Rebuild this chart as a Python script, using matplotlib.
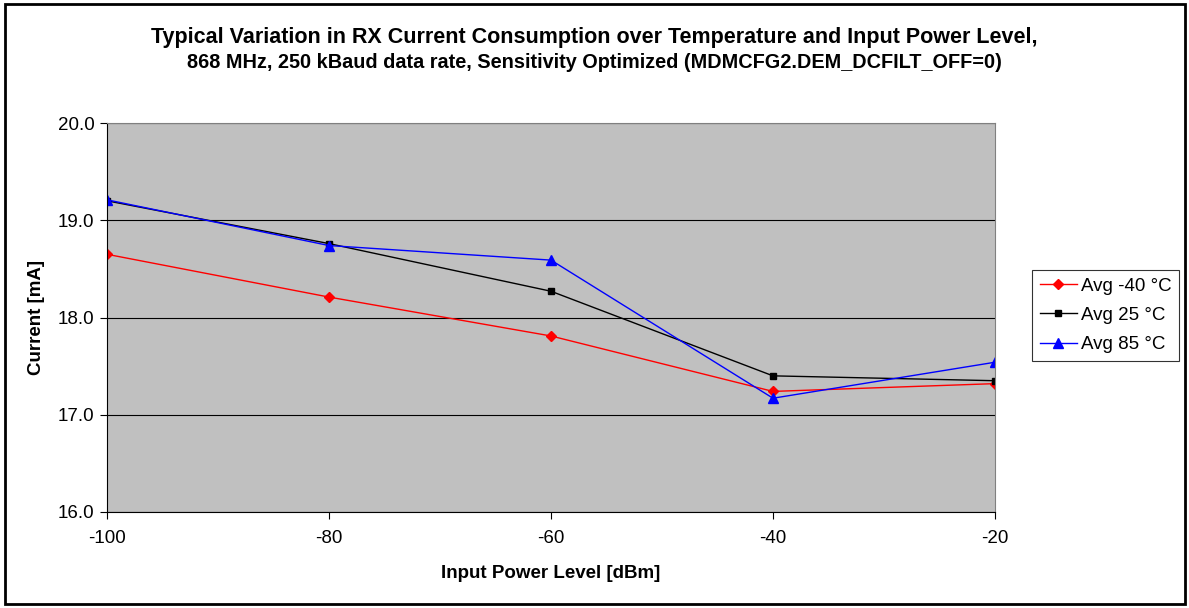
import matplotlib
matplotlib.use("Agg")
import matplotlib.pyplot as plt
from matplotlib.patches import Rectangle

plt.rcParams['font.family'] = ['Liberation Sans', 'DejaVu Sans']

power_dbm = [-100, -80, -60, -40, -20]
avg_m40 = [18.65, 18.21, 17.81, 17.24, 17.32]
avg_25 = [19.20, 18.76, 18.27, 17.40, 17.35]
avg_85 = [19.21, 18.74, 18.59, 17.17, 17.54]
series_labels = ["Avg -40 °C", "Avg 25 °C", "Avg 85 °C"]
x_ticks = [-100, -80, -60, -40, -20]
y_ticks = [16.0, 17.0, 18.0, 19.0, 20.0]

fig = plt.figure(figsize=(11.89, 6.08), dpi=100)
fig.patches.append(Rectangle((0.004, 0.006), 0.993, 0.988, transform=fig.transFigure,
                             fill=False, edgecolor='black', linewidth=2))

ax = fig.add_axes([107/1189, 1-512/608, (995-107)/1189, (512-123)/608])
ax.set_facecolor('#c0c0c0')

ax.plot(power_dbm, avg_m40, color='red', marker='D', markersize=5, linewidth=1, label=series_labels[0])
ax.plot(power_dbm, avg_25, color='black', marker='s', markersize=5, linewidth=1, label=series_labels[1])
ax.plot(power_dbm, avg_85, color='blue', marker='^', markersize=7, linewidth=1, label=series_labels[2])

ax.set_xlim(-100, -20)
ax.set_ylim(16.0, 20.0)
ax.set_xticks(x_ticks)
ax.set_xticklabels([str(t) for t in x_ticks])
ax.set_yticks(y_ticks)
ax.set_yticklabels([f"{t:.1f}" for t in y_ticks])
ax.yaxis.grid(True, color='black', linewidth=0.8)
ax.set_axisbelow(True)
ax.tick_params(axis='both', labelsize=13.5, direction='out', length=5, width=0.8)
ax.tick_params(axis='x', pad=8)
ax.tick_params(axis='y', pad=4)
for s in ['top', 'right']:
    ax.spines[s].set_color('#808080')
for s in ['left', 'bottom']:
    ax.spines[s].set_color('black')

ax.set_xlabel("Input Power Level [dBm]", fontsize=13.5, fontweight='bold', labelpad=13)
ax.set_ylabel("Current [mA]", fontsize=13.5, fontweight='bold', labelpad=9)

fig.text(0.5, 1-37/608, "Typical Variation in RX Current Consumption over Temperature and Input Power Level,",
         ha='center', va='center', fontsize=15.5, fontweight='bold')
fig.text(0.5, 1-63/608, "868 MHz, 250 kBaud data rate, Sensitivity Optimized (MDMCFG2.DEM_DCFILT_OFF=0)",
         ha='center', va='center', fontsize=14.3, fontweight='bold')

leg = fig.legend(loc='upper left', bbox_to_anchor=(1032/1189, 1-270/608), fontsize=13.5,
                 frameon=True, fancybox=False, edgecolor='black', handlelength=2.0,
                 borderpad=0.4, labelspacing=0.65, handletextpad=0.2, borderaxespad=0)
leg.get_frame().set_linewidth(0.8)

fig.savefig("out.png", dpi=100)
